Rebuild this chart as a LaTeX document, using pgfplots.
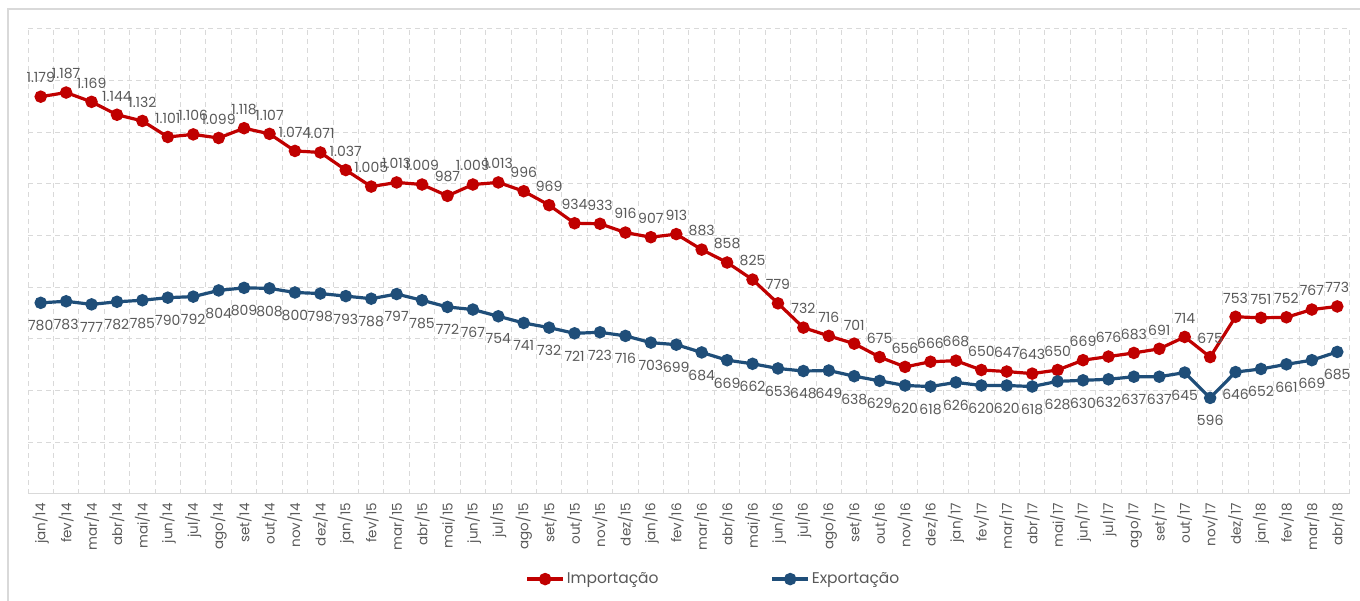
\documentclass[border=0pt]{standalone}
\usepackage{pgfplots}
\pgfplotsset{compat=1.18}
\usepackage{pgfplotstable}
\usepackage{fontspec}
\setmainfont{Poppins}

\definecolor{impc}{HTML}{C00000}
\definecolor{expc}{HTML}{1F4E79}
\definecolor{gridc}{HTML}{D9D9D9}
\definecolor{txtc}{HTML}{595959}

% importacao
\pgfplotstableread{
x y lab
0 1179 1.179
1 1187 1.187
2 1169 1.169
3 1144 1.144
4 1132 1.132
5 1101 1.101
6 1106 1.106
7 1099 1.099
8 1118 1.118
9 1107 1.107
10 1074 1.074
11 1071 1.071
12 1037 1.037
13 1005 1.005
14 1013 1.013
15 1009 1.009
16 987 987
17 1009 1.009
18 1013 1.013
19 996 996
20 969 969
21 934 934
22 933 933
23 916 916
24 907 907
25 913 913
26 883 883
27 858 858
28 825 825
29 779 779
30 732 732
31 716 716
32 701 701
33 675 675
34 656 656
35 666 666
36 668 668
37 650 650
38 647 647
39 643 643
40 650 650
41 669 669
42 676 676
43 683 683
44 691 691
45 714 714
46 675 675
47 753 753
48 751 751
49 752 752
50 767 767
51 773 773
}\imptab

% exportacao
\pgfplotstableread{
x y lab
0 780 780
1 783 783
2 777 777
3 782 782
4 785 785
5 790 790
6 792 792
7 804 804
8 809 809
9 808 808
10 800 800
11 798 798
12 793 793
13 788 788
14 797 797
15 785 785
16 772 772
17 767 767
18 754 754
19 741 741
20 732 732
21 721 721
22 723 723
23 716 716
24 703 703
25 699 699
26 684 684
27 669 669
28 662 662
29 653 653
30 648 648
31 649 649
32 638 638
33 629 629
34 620 620
35 618 618
36 626 626
37 620 620
38 620 620
39 618 618
40 628 628
41 630 630
42 632 632
43 637 637
44 637 637
45 645 645
46 596 596
47 646 646
48 652 652
49 661 661
50 669 669
51 685 685
}\exptab

\begin{document}
\begin{tikzpicture}[x=1bp,y=1bp]
\begin{axis}[
    scale only axis, width=1322bp, height=465bp,
    xmin=-0.5, xmax=51.5,
    ymin=410, ymax=1310,
    ytick={410,510,...,1310}, yticklabels={},
    ymajorgrids,
    xtick={0,...,51},
    minor xtick={-0.5,0.5,...,51.5},
    xminorgrids,
    major tick length=0, minor tick length=0,
    grid style={gridc, line width=1bp, dash pattern=on 5bp off 4bp},
    minor grid style={gridc, line width=1bp, dash pattern=on 5bp off 4bp},
    axis line style={draw=none},
    xticklabels={jan/14,fev/14,mar/14,abr/14,mai/14,jun/14,jul/14,ago/14,set/14,out/14,nov/14,dez/14,
                 jan/15,fev/15,mar/15,abr/15,mai/15,jun/15,jul/15,ago/15,set/15,out/15,nov/15,dez/15,
                 jan/16,fev/16,mar/16,abr/16,mai/16,jun/16,jul/16,ago/16,set/16,out/16,nov/16,dez/16,
                 jan/17,fev/17,mar/17,abr/17,mai/17,jun/17,jul/17,ago/17,set/17,out/17,nov/17,dez/17,
                 jan/18,fev/18,mar/18,abr/18},
    xticklabel style={rotate=90, anchor=east, inner sep=0pt, xshift=-9bp,
                      font=\fontsize{13.5bp}{14bp}\selectfont, text=txtc},
    legend style={at={(rel axis cs:0.5185,-0.183)}, anchor=center, draw=none,
                  font=\fontsize{15.5bp}{16bp}\selectfont, text=txtc,
                  /tikz/every even column/.append style={column sep=110bp}},
    legend columns=2,
    legend image code/.code={\draw[mark repeat=2,mark phase=2,#1] plot coordinates {(0bp,0bp) (18bp,0bp) (36bp,0bp)};},
    clip=false,
]
\coordinate (BL) at (rel axis cs:0,0);
\draw[gridc, line width=1bp] (rel axis cs:0,0) -- (rel axis cs:1,0);
\addplot[impc, line width=3.2bp, mark=*, mark size=4.6bp,
    nodes near coords, point meta=explicit symbolic,
    every node near coord/.style={anchor=south, inner sep=0pt, yshift=12bp,
        font=\fontsize{14bp}{14bp}\selectfont, text=txtc}]
    table[x=x, y=y, meta=lab] {\imptab};
\addlegendentry{Importação}
\addplot[expc, line width=3.2bp, mark=*, mark size=4.6bp,
    nodes near coords, point meta=explicit symbolic,
    every node near coord/.style={anchor=north, inner sep=0pt, yshift=-16bp,
        font=\fontsize{14bp}{14bp}\selectfont, text=txtc}]
    table[x=x, y=y, meta=lab] {\exptab};
\addlegendentry{Exportação}
\end{axis}
\pgfresetboundingbox
\path[use as bounding box] ([shift={(-28,-107)}]BL) rectangle ++(1360,601);
\draw[gridc, line width=1.5bp] ([shift={(-20,-120)}]BL) -- ([shift={(-20,485)}]BL) -- ([shift={(1400,485)}]BL);
\end{tikzpicture}
\end{document}
